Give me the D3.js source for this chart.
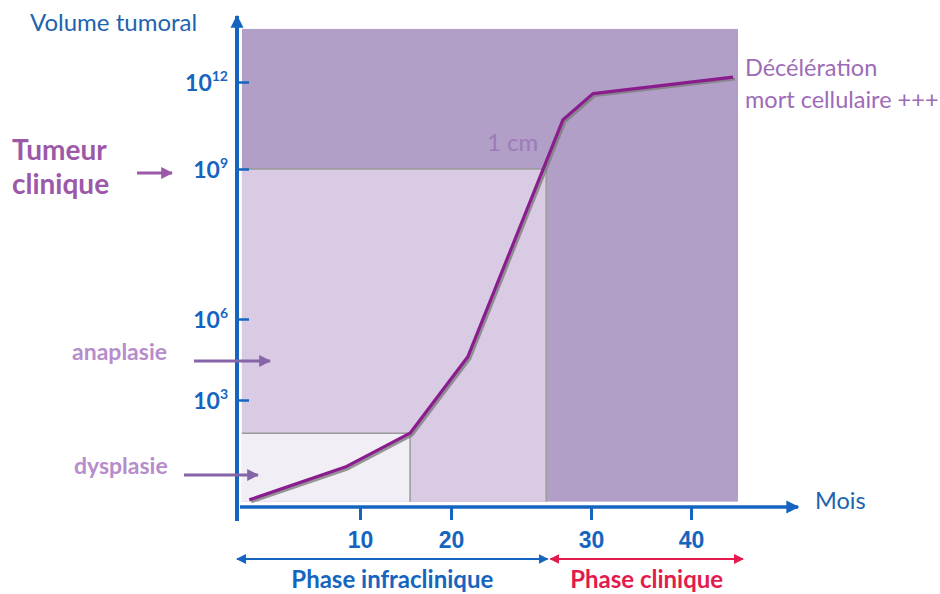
<!DOCTYPE html>
<html><head><meta charset="utf-8">
<script src="https://cdn.jsdelivr.net/npm/d3@7"></script>
<style>body{margin:0;background:#fff}svg{display:block;font-family:Lato,"Open Sans",sans-serif}</style>
</head><body>
<svg id="c" width="940" height="594"></svg>
<script>
// Data (months, log10 of tumour volume)
const months = [1.0, 8.8, 15.5, 21.2, 28.0, 30.2, 44.2];
const logVolume = [0.2, 1.12, 2.07, 4.6, 10.7, 11.6, 12.17];
const xTickValues = [10, 20, 30, 40];
const yTickValues = [3, 6, 9, 12];
const yTickLabels = ["3", "6", "9", "12"];
const zones = [
  {name: "clinique", x0: 0.4, x1: 44.7, y0: 0.15, y1: 13.83, fill: "#b19fc7"},
  {name: "anaplasie", x0: 0.4, x1: 26.8, y0: 0.15, y1: 9, fill: "#d8cbe3"},
  {name: "dysplasie", x0: 0.4, x1: 15.5, y0: 0.15, y1: 2.07, fill: "#f2eef5"}
];
const phases = [
  {label: "Phase infraclinique", from: 0, to: 26.9, color: "#1565c0"},
  {label: "Phase clinique", from: 27.1, to: 45.2, color: "#e31b4d"}
];

const svg = d3.select("#c");
const blue = "#1565c0";
// schematic (non-uniform) scales
const x = d3.scaleLinear().domain([0, 10, 20, 30, 40]).range([237, 360, 451, 591, 691]);
const y = d3.scaleLinear().domain([0, 3, 6, 9, 12]).range([507, 400, 319, 169, 82]);

// zones
svg.append("g").selectAll("rect").data(zones).join("rect")
  .attr("x", d => x(d.x0)).attr("width", d => x(d.x1) - x(d.x0))
  .attr("y", d => y(d.y1)).attr("height", d => y(d.y0) - y(d.y1))
  .attr("fill", d => d.fill);
zones.slice(1).forEach(d => {
  svg.append("path")
    .attr("d", `M${x(d.x0)},${y(d.y1)}H${x(d.x1)}V${y(d.y0)}`)
    .attr("fill", "none").attr("stroke", "#9a9a9a").attr("stroke-width", 1.5);
});

// curve
const pts = months.map((m, i) => [m, logVolume[i]]);
const line = d3.line().x(d => x(d[0])).y(d => y(d[1]));
svg.append("path").attr("d", line(pts)).attr("transform", "translate(2,2)")
  .attr("fill", "none").attr("stroke", "#7d7d7d").attr("stroke-width", 3).attr("opacity", 0.8);
svg.append("path").attr("d", line(pts))
  .attr("fill", "none").attr("stroke", "#8a1c8e").attr("stroke-width", 3.2).attr("stroke-linejoin", "round");

// arrow markers
const defs = svg.append("defs");
function marker(id, color, w, h) {
  defs.append("marker").attr("id", id).attr("viewBox", "0 0 10 10").attr("refX", 9).attr("refY", 5)
    .attr("markerWidth", w).attr("markerHeight", h).attr("markerUnits", "userSpaceOnUse").attr("orient", "auto-start-reverse")
    .append("path").attr("d", "M0,0L10,5L0,10Z").attr("fill", color);
}
marker("ab", blue, 13, 14);
marker("abs", blue, 10, 10);
marker("ar", "#e31b4d", 10, 10);
marker("ap", "#8565a8", 12, 12);
marker("ap2", "#9b59a8", 12, 12);

// axes
const xAxis = d3.axisBottom(x).tickValues(xTickValues).tickSize(13).tickPadding(8).tickFormat(d3.format("d"));
const gx = svg.append("g").attr("transform", `translate(0,${y(0)})`).call(xAxis);
gx.select(".domain").remove();
gx.selectAll(".tick line").attr("stroke", blue).attr("stroke-width", 3);
gx.selectAll(".tick text").attr("fill", blue).attr("font-size", 23).attr("font-weight", "bold").attr("dy", "0.85em");
svg.append("line").attr("x1", 240).attr("x2", 798).attr("y1", y(0)).attr("y2", y(0))
  .attr("stroke", blue).attr("stroke-width", 3.5).attr("marker-end", "url(#ab)");

const yAxis = d3.axisRight(y).tickValues(yTickValues).tickSize(12).tickFormat(() => "");
const gy = svg.append("g").attr("transform", `translate(${x(0)},0)`).call(yAxis);
gy.select(".domain").remove();
gy.selectAll(".tick line").attr("stroke", blue).attr("stroke-width", 2.5);
svg.append("line").attr("x1", x(0)).attr("x2", x(0)).attr("y1", 521).attr("y2", 16)
  .attr("stroke", blue).attr("stroke-width", 4).attr("marker-end", "url(#ab)");

// y tick labels 10^n
const yl = svg.append("g").selectAll("text").data(yTickValues).join("text")
  .attr("x", 228).attr("y", d => y(d) + 9).attr("text-anchor", "end")
  .attr("fill", blue).attr("font-weight", "bold").attr("font-size", 23);
yl.append("tspan").text("10");
yl.append("tspan").attr("font-size", 14).attr("dy", -10).text((d, i) => yTickLabels[i]);

// axis titles
svg.append("text").attr("x", 30).attr("y", 31).attr("fill", "#2163ae").attr("font-size", 24).text("Volume tumoral");
svg.append("text").attr("x", 815).attr("y", 509).attr("fill", "#2163ae").attr("font-size", 23.5).text("Mois");

// annotations
const purple = "#9b59a8";
const tc = svg.append("text").attr("fill", purple).attr("font-size", 28).attr("font-weight", "bold");
tc.append("tspan").attr("x", 12).attr("y", 160).text("Tumeur");
tc.append("tspan").attr("x", 12).attr("y", 194).text("clinique");
svg.append("line").attr("x1", 137).attr("x2", 172).attr("y1", 173).attr("y2", 173)
  .attr("stroke", purple).attr("stroke-width", 3).attr("marker-end", "url(#ap2)");

svg.append("text").attr("x", 72).attr("y", 360).attr("fill", "#b78ccb").attr("font-size", 23).attr("font-weight", "bold").text("anaplasie");
svg.append("line").attr("x1", 194).attr("x2", 270).attr("y1", 361).attr("y2", 361)
  .attr("stroke", "#8565a8").attr("stroke-width", 3).attr("marker-end", "url(#ap)");
svg.append("text").attr("x", 74).attr("y", 474).attr("fill", "#b78ccb").attr("font-size", 23).attr("font-weight", "bold").text("dysplasie");
svg.append("line").attr("x1", 184).attr("x2", 258).attr("y1", 475).attr("y2", 475)
  .attr("stroke", "#8565a8").attr("stroke-width", 3).attr("marker-end", "url(#ap)");

svg.append("text").attr("x", 487).attr("y", 151).attr("fill", "#9d7bb8").attr("font-size", 24).text("1 cm");
const dc = svg.append("text").attr("fill", "#9d6bb8").attr("font-size", 23.5);
dc.append("tspan").attr("x", 745).attr("y", 76).text("Décélération");
dc.append("tspan").attr("x", 745).attr("y", 108).text("mort cellulaire +++");

// phases
const gp = svg.append("g").selectAll("g").data(phases).join("g");
gp.append("line").attr("x1", d => x(d.from)).attr("x2", d => x(d.to)).attr("y1", 559).attr("y2", 559)
  .attr("stroke", d => d.color).attr("stroke-width", 2)
  .attr("marker-start", (d, i) => i ? "url(#ar)" : "url(#abs)")
  .attr("marker-end", (d, i) => i ? "url(#ar)" : "url(#abs)");
gp.append("text").attr("x", d => (x(d.from) + x(d.to)) / 2).attr("y", 588).attr("text-anchor", "middle")
  .attr("fill", d => d.color).attr("font-size", 24).attr("font-weight", "bold").text(d => d.label);
</script>
</body></html>
